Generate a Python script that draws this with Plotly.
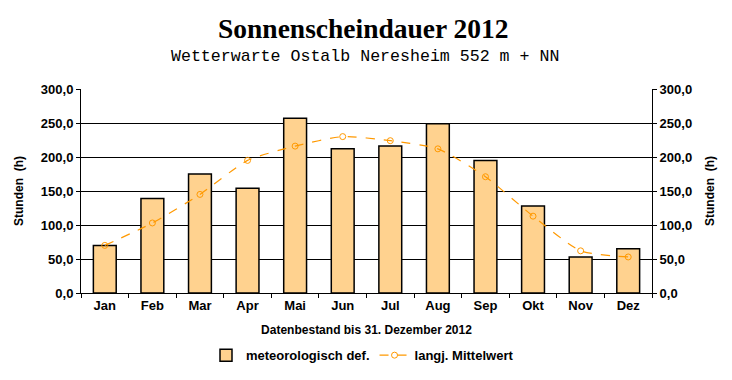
import plotly.graph_objects as go

months = ["Jan", "Feb", "Mar", "Apr", "Mai", "Jun", "Jul", "Aug", "Sep", "Okt", "Nov", "Dez"]
sunshine_2012 = [70, 139, 175, 154, 257, 212, 216, 249, 195, 128, 53, 65]
longterm_mean = [70, 103, 145, 195, 216, 230, 224, 212, 171, 113, 62, 53]
yticks = [0, 50, 100, 150, 200, 250, 300]

FONT = "Liberation Sans, Arial, sans-serif"
ORANGE = "#FF9900"

fig = go.Figure()
fig.add_trace(go.Bar(
    x=months, y=sunshine_2012, name="meteorologisch def.",
    width=0.48,
    marker=dict(color="#FFFFFF",
                line=dict(color="black", width=1.5),
                pattern=dict(shape=".", fgcolor=ORANGE, bgcolor="#FFFFFF",
                             size=2, solidity=0.5, fillmode="replace")),
))
fig.add_trace(go.Scatter(
    x=months, y=longterm_mean, name="langj. Mittelwert",
    mode="lines+markers",
    line=dict(color=ORANGE, width=1.2, dash="dash", shape="spline", smoothing=0.6),
    marker=dict(symbol="circle-open", size=6, color=ORANGE, line=dict(width=1)),
))
fig.add_trace(go.Scatter(x=months, y=longterm_mean, yaxis="y2", mode="lines",
                         line=dict(width=0), opacity=0, showlegend=False, hoverinfo="skip"))

tickfont = dict(family=FONT, size=13, color="black", weight="bold")
yax = dict(range=[0, 300], tickvals=yticks, tickformat=".1f",
           showline=True, linecolor="black", linewidth=1,
           ticks="outside", ticklen=4, tickcolor="black",
           tickfont=tickfont, zeroline=False, automargin=False,
           title=dict(text="Stunden  (h)", font=dict(family=FONT, size=12, color="black", weight="bold"),
                      standoff=14))

fig.update_layout(
    width=732, height=380,
    margin=dict(l=81, r=80, t=89, b=87, autoexpand=False),
    paper_bgcolor="white", plot_bgcolor="white",
    separators=",.",
    xaxis=dict(range=[-0.5, len(months) - 0.5],
               showline=True, linecolor="black", linewidth=1,
               ticks="outside", tickson="boundaries", ticklen=4, tickcolor="black",
               tickfont=tickfont, showgrid=False, automargin=False,
               title=dict(text="Datenbestand bis 31. Dezember 2012",
                          font=dict(family=FONT, size=12, color="black", weight="bold"), standoff=14)),
    yaxis=dict(**yax, showgrid=True, gridcolor="black", gridwidth=1),
    yaxis2=dict(**yax, overlaying="y", side="right", showgrid=False),
    legend=dict(orientation="h", x=0.493, xanchor="center", y=-0.305, yanchor="middle",
                font=dict(family=FONT, size=13, color="black", weight="bold"),
                itemwidth=30, tracegroupgap=0),
    showlegend=True,
)
fig.add_annotation(text="<b>Sonnenscheindauer 2012</b>", xref="paper", yref="paper",
                   x=0.495, y=1.0, yshift=61, showarrow=False, yanchor="middle",
                   font=dict(family="Liberation Serif, Times New Roman, serif", size=27.5, color="black"))
fig.add_annotation(text="Wetterwarte Ostalb Neresheim 552 m + NN", xref="paper", yref="paper",
                   x=0.497, y=1.0, yshift=33, showarrow=False, yanchor="middle",
                   font=dict(family="Liberation Mono, Courier New, monospace", size=16.6, color="black"))

fig.write_html("out.html", config={"displayModeBar": False},
               post_script="document.body.style.margin='0';document.body.style.padding='0';")
